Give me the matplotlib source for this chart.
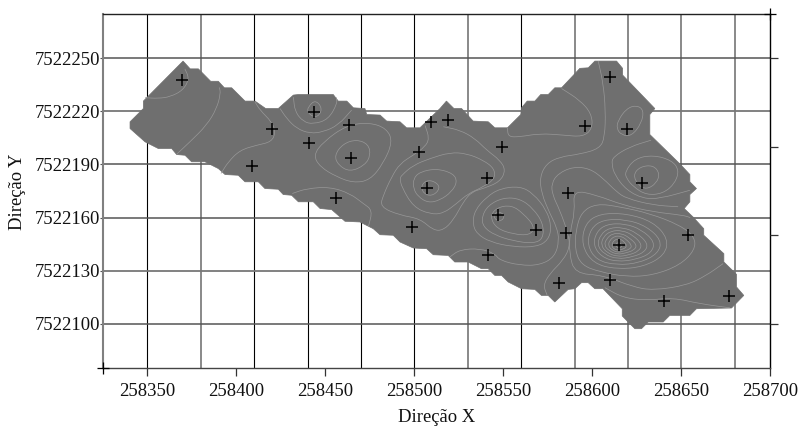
import numpy as np
import matplotlib
matplotlib.use('Agg')
import matplotlib.pyplot as plt
from matplotlib.path import Path
from matplotlib.patches import PathPatch, Polygon

plt.rcParams['font.family'] = ['Liberation Serif', 'DejaVu Serif']

# all coordinates below are metres relative to these origins
x0 = 258000
y0 = 7522000

xlim = [325, 700]
ylim = [75, 275]
xticks = [350, 400, 450, 500, 550, 600, 650, 700]
yticks = [100, 130, 160, 190, 220, 250]
right_ticks = [100, 150, 200, 250]

# grid, the reference has some lines dark/thin and some grey/thick
vgrid_dark = [350, 410, 440, 470, 500, 560]
vgrid_grey = [380, 530, 590, 620, 650, 680]
hgrid_dark = [100, 160, 190, 250]
hgrid_grey = [130, 220]

# sample points
pts_x = [369.2, 419.8, 443.6, 463.4, 440.8, 464.2, 408.9, 509.3, 502.6, 506.9,
         455.9, 519.0, 549.0, 595.8, 609.8, 619.2, 628.0, 586.4, 540.9, 547.1,
         568.2, 585.1, 614.7, 654.0, 541.5, 581.4, 609.8, 640.2, 676.9, 498.8]
pts_y = [237.7, 210.3, 219.8, 212.2, 202.2, 193.4, 189.0, 213.9, 197.1, 176.8,
         171.1, 215.0, 199.8, 211.6, 239.2, 209.8, 179.8, 173.9, 182.4, 161.3,
         152.8, 151.3, 144.3, 150.0, 138.7, 123.0, 124.5, 112.6, 115.5, 154.7]

# outline of the interpolated area
area = [(370, 248.4), (374, 244), (378.6, 244), (385.5, 237), (389.8, 237), (393.2, 233.3),
        (397.3, 233.3), (404.8, 225.8), (410.4, 225.8), (416.4, 221.6), (423.5, 221.6),
        (432, 229.2), (434.8, 229.5), (454.4, 229.5), (457.2, 225.8), (462, 225.8),
        (465.7, 222), (472.2, 221.6), (473.2, 218.2), (480.7, 217.9), (484.4, 214.5),
        (491.9, 214.1), (495.6, 210.7), (503.1, 210.7), (514.4, 221.6), (518, 225.8),
        (522.2, 221.6), (526.5, 221.6), (533, 214.5), (541.5, 214.1), (545.2, 210.7),
        (552.3, 210.7), (559.8, 218.2), (560.2, 222), (563.4, 225.8), (567.7, 225.8),
        (571, 229.5), (575.2, 229.5), (578.9, 233.3), (582.7, 233.3), (593, 244.3),
        (597.7, 244.6), (601.4, 248.4), (613.6, 248.4), (617, 244.3), (617, 240.5),
        (635.1, 221.6), (632.3, 218.2), (632.3, 206.9), (649.5, 190), (654.8, 184.3),
        (654.8, 180.2), (658.5, 176.4), (654.8, 173), (654.8, 168.9), (651.6, 165.1),
        (656.6, 160.3), (662.6, 153.7), (662.6, 150), (673.9, 139.6), (673.9, 134.9),
        (681, 127.9), (681, 120.8), (685.1, 116), (678.2, 108.9), (658.5, 108.5),
        (654.8, 104.7), (643.5, 104.7), (639.8, 101), (631.4, 101), (627.6, 97.2),
        (623.9, 97.2), (620.1, 101), (616.8, 104.4), (616.8, 108.5), (606, 119.8),
        (601.4, 119.8), (597.7, 123.2), (593.9, 123.2), (590.2, 119.8), (586.4, 119.4),
        (578.9, 112.3), (575.2, 116), (571.4, 116), (567.7, 119.4), (560.2, 119.8),
        (552.7, 123.6), (549, 127.3), (545.2, 127.3), (541.5, 131.1), (537.7, 131.1),
        (530.2, 134.9), (522.7, 134.9), (519, 138.6), (510.6, 139), (506.9, 142.4),
        (499.4, 142.8), (491.9, 146.2), (488.1, 150), (480.7, 150.3), (476.9, 153.7),
        (469.4, 157.5), (461, 157.9), (453.5, 164.5), (447, 165.1), (443.2, 168.9),
        (434.8, 168.9), (431, 172.6), (426.3, 173), (423.5, 176), (416, 176.4),
        (412.3, 180.2), (404.8, 180.2), (401, 183.9), (393.6, 184.3), (389.8, 187.7),
        (382.3, 191.5), (374.8, 191.5), (371.1, 195.2), (366.4, 195.6), (363.6, 199),
        (356.1, 199), (348.6, 202.8), (340.2, 210.3), (340.2, 214.1), (347.7, 221.6),
        (347.7, 225.8)]

# isolines, open ones end on the outline
open_lines = [
    [(371, 244), (373.5, 238.6), (370.1, 232), (362.7, 228.2), (356.1, 227.3), (348.6, 227.7)],
    [(390.4, 233.5), (391.1, 230.1), (388.9, 221.6), (383.3, 212.2), (373.9, 202.8), (366.4, 195.8)],
    [(410.4, 225.4), (413.2, 220.7), (419.8, 214.1), (422, 208.4), (419.8, 202.8), (411.4, 200.9),
     (402, 198.1), (395.4, 191.5), (391.3, 184.9)],
    [(424.5, 221.6), (428.2, 216), (433.8, 210.3), (441.3, 207.5), (448.8, 208.4), (457.2, 212.2), (464.7, 220.7)],
    [(432, 228), (432.9, 219.8), (437.6, 214.1), (443.2, 212.8), (451.6, 215.4), (456.7, 224.5), (456, 228)],
    [(431.4, 173.6), (439.5, 176.4), (452.6, 177.3), (463.8, 173.6), (471.3, 167.9), (476.5, 164.1), (474.1, 154.7)],
    [(506, 212), (508.4, 204.7), (506, 200), (499.4, 195.3), (491.9, 190.5), (487.2, 183), (482.5, 172.6),
     (480.7, 166), (491.9, 161.3), (503.1, 159.4), (510.6, 152.8), (516.2, 152.8), (521.9, 158.5),
     (527.5, 168.9), (532.2, 174.5), (538.7, 176.4), (548.1, 180.2), (551.3, 186.8), (548.1, 192.4),
     (540.6, 198.1), (534, 204.7), (525.6, 209.4), (516.3, 211.3)],
    [(633, 203.7), (621, 200), (611.7, 194.3), (610.8, 190.5), (612.6, 183.9), (619.2, 175.5),
     (628.6, 170.7), (637.9, 170.7), (654.8, 175.4)],
    [(603.3, 248.4), (606.1, 235.8), (607.4, 220.7), (607, 205.6), (604.2, 199), (593, 195.8),
     (581.7, 194.3), (574.2, 190.5), (570.5, 183), (571.4, 173.6), (576.1, 162.3), (579.9, 154.7),
     (581.4, 147.2), (578.9, 137.8), (570.5, 133.1), (559.3, 133), (548, 135.8), (545.2, 139.6),
     (536.9, 142.5), (525.6, 141.9), (520, 137.8)],
    [(648.2, 166.1), (634.2, 167), (619.2, 170.8), (613.6, 174.5), (606.1, 182.1), (598.6, 187.7),
     (589.2, 188.7), (580.8, 184.9), (577, 179.3), (577.6, 172.7), (581.7, 164.2), (586.4, 151),
     (587.4, 143.4), (583.6, 135.9), (576.1, 128.4), (572.4, 121.8), (574.6, 116.1)],
    [(655, 160), (651, 161.3), (634.2, 163.2), (617.3, 167), (602.3, 172.7), (589.2, 175.5), (590.2, 163.2),
     (587.4, 151.9), (587, 139.7), (590.2, 128.4), (606.1, 127.4), (622.9, 120.8), (634.2, 118.9),
     (652.9, 121.7), (664.1, 127.3), (673.5, 134)],
    [(607, 120.4), (617.3, 114.7), (630.4, 113.2), (645.4, 114.7), (660.4, 111.3), (677.3, 109)],
    [(552.3, 210.7), (552.7, 205.6), (559.3, 205.6), (570.5, 207.5), (583.6, 206.6), (594.8, 205.6),
     (600.1, 210.3), (599.5, 218.8), (593, 226.3), (582.7, 232.9)],
]

closed_lines = [
    [(440.4, 222.6), (444.1, 226.4), (447.9, 222.6), (447, 217.9), (443.2, 216.6), (439.8, 219.8)],
    [(443.2, 195.2), (448.8, 202.8), (461.9, 212.2), (475, 213.7), (484.4, 210.3), (487.8, 202.8),
     (482.5, 190.5), (475, 181.1), (465.7, 179.6), (456.3, 183), (447, 188.6)],
    [(455, 195.2), (460, 201.8), (467.5, 204.1), (474.1, 201.5), (475.4, 195.2), (472.2, 189.6),
     (463.8, 185.8), (457.2, 189.6)],
    [(491.9, 182), (492.8, 177.3), (499.4, 166), (508.8, 161.9), (516.2, 162.3), (523.7, 167.9),
     (530.3, 173.6), (538.7, 177.3), (545.3, 182), (544.9, 187.7), (538.7, 192.4), (529.4, 196.2),
     (520, 196.8), (508.8, 193.4), (499.4, 189.6), (492.8, 183.9)],
    [(499.4, 182), (503.1, 185.8), (512.5, 187.7), (521.9, 184.9), (524.1, 180.2), (520.9, 174.5),
     (514.4, 169.8), (507.8, 168.3), (502.2, 171.7), (499.4, 176.4)],
    [(503.7, 178.3), (507.8, 181.5), (513.4, 179.2), (514, 175.5), (509.7, 172.1), (505, 173.6)],
    [(532.7, 156.6), (534, 164.2), (540.6, 171.7), (548.1, 176.4), (559.3, 177.7), (566.8, 173.6),
     (574.3, 164.2), (577.1, 154.7), (575.2, 147.2), (568.7, 143.4), (555.6, 143.4), (542.5, 146.2), (535, 150.9)],
    [(537.8, 160.4), (541.5, 167), (550, 171.3), (559.3, 170.7), (566.8, 165.1), (572.4, 156.6),
     (572.4, 148.1), (566.8, 145.3), (555.6, 146.8), (545.3, 150), (538.7, 154.7)],
    [(542.5, 160.4), (546.2, 165.7), (554.6, 167), (561.2, 162.3), (567.8, 154.7), (564.9, 150),
     (555.6, 150.6), (546.2, 153.8)],
    [(544.3, 161.3), (547.2, 163.6), (550.9, 161.3), (549, 157.9), (545.8, 158.5)],
    [(618.3, 185.8), (623.9, 193.4), (634.2, 195.3), (644.5, 192.4), (648.8, 186.8), (646.4, 179.3),
     (639.8, 173.6), (630.4, 172.7), (623, 177.4), (619.2, 182.1)],
    [(622.9, 184), (626.7, 188.7), (634.2, 189.6), (637.9, 184.9), (636, 179.3), (630.4, 175.9), (625.8, 178.3)],
    [(614.5, 215), (619.2, 221.6), (624.8, 223.5), (628.9, 220.7), (627.6, 213.2), (622, 206),
     (616.4, 206.6), (613.6, 210.3)],
    # rings of the depression near 258615 / 7522145
    [(593.9, 163.2), (602.3, 167.9), (615.5, 166.1), (632.3, 162.3), (649.2, 155.7), (657.6, 149.1),
     (657.6, 141.6), (649.2, 133.1), (634.2, 127.4), (619.2, 126.5), (604.2, 129.3), (593.9, 133.1),
     (590.2, 141.6), (590.7, 152.9)],
    [(593.9, 144.4), (595.8, 156.6), (604.2, 162.3), (619.2, 162.3), (634.2, 157.6), (642.6, 148.1),
     (640.7, 138.7), (628.6, 132.1), (613.6, 130.8), (600.5, 134)],
    [(597.1, 144.4), (599, 153.8), (606.1, 158.9), (619.2, 158.9), (630.4, 155.1), (638.9, 147.2),
     (637, 139.7), (626.7, 134.4), (613.6, 133.1), (602.3, 135.9)],
    [(600.5, 144.4), (602.3, 151.9), (608, 156.3), (618.3, 156.6), (627.6, 153.2), (635.1, 146.3),
     (633.2, 140), (624.8, 136.3), (613.6, 135), (605.1, 137.8)],
    [(602.7, 144.4), (604.6, 150.4), (609.5, 154.2), (617.3, 154.4), (624.8, 151.5), (631.4, 145.3),
     (629.5, 140.6), (622.9, 137.8), (614, 136.5), (606.6, 139.3)],
    [(604.8, 144.4), (606.1, 149.1), (610.4, 152.5), (617, 152.7), (622.9, 150), (628, 144.8),
     (626.1, 141), (620.7, 138.9), (614.1, 137.8), (608, 140.2)],
    [(606.6, 144.4), (608, 148.1), (611.3, 151), (616.4, 151), (620.7, 148.7), (625.2, 144.4),
     (623.3, 141.5), (618.8, 140), (614.1, 139.1), (609.3, 141.2)],
    [(608.9, 144.4), (609.8, 147.2), (612.5, 149.5), (616, 149.5), (619.2, 147.6), (622.4, 144),
     (620.7, 141.9), (617.3, 141), (614.3, 140.2), (610.6, 141.9)],
    [(610.8, 144.4), (612.1, 147.2), (615.1, 148.1), (617.7, 146.6), (619.6, 143.8), (617.3, 142.1),
     (614.3, 141.5), (611.7, 142.5)],
    [(612.6, 144.4), (614.7, 146.3), (617.3, 144), (614.7, 142.5)],
]


def shift(line):
    return [(x0 + p[0], y0 + p[1]) for p in line]


def curve_path(line, closed=False):
    # quadratic beziers through the segment midpoints, so the traced lines look round
    p = np.array(shift(line), dtype=float)
    if closed:
        mid = (p + np.roll(p, -1, axis=0)) / 2
        verts = [mid[-1]]
        codes = [Path.MOVETO]
        for i in range(len(p)):
            verts += [p[i], mid[i]]
            codes += [Path.CURVE3, Path.CURVE3]
    else:
        mid = (p[:-1] + p[1:]) / 2
        verts = [p[0], mid[0]]
        codes = [Path.MOVETO, Path.LINETO]
        for i in range(1, len(p) - 1):
            verts += [p[i], mid[i]]
            codes += [Path.CURVE3, Path.CURVE3]
        verts.append(p[-1])
        codes.append(Path.LINETO)
    return Path(verts, codes)


fig = plt.figure(figsize=(7.99, 4.26), dpi=100)
ax = fig.add_axes([103 / 799, 58 / 426, 667.3 / 799, 354 / 426])
ax.set_xlim(x0 + xlim[0], x0 + xlim[1])
ax.set_ylim(y0 + ylim[0], y0 + ylim[1])

for v in vgrid_dark:
    ax.axvline(x0 + v, color='black', lw=0.8, zorder=1)
for v in vgrid_grey:
    ax.axvline(x0 + v, color='#808080', lw=1.3, zorder=1)
for h in hgrid_dark:
    ax.axhline(y0 + h, color='#555555', lw=1.1, zorder=1)
for h in hgrid_grey:
    ax.axhline(y0 + h, color='#777777', lw=1.3, zorder=1)

ax.add_patch(Polygon(shift(area), closed=True, facecolor='#6f6f6f', edgecolor='#6f6f6f',
                     lw=0.5, zorder=2))
for line in open_lines:
    ax.add_patch(PathPatch(curve_path(line), fill=False, edgecolor='#989898', lw=0.5, zorder=3))
for line in closed_lines:
    ax.add_patch(PathPatch(curve_path(line, closed=True), fill=False, edgecolor='#989898', lw=0.5, zorder=3))

ax.plot(x0 + np.array(pts_x), y0 + np.array(pts_y), '+', color='black', ms=8.6, mew=1.1, zorder=4)

ax.set_xticks([x0 + t for t in xticks])
ax.set_yticks([y0 + t for t in yticks])
ax.set_xticklabels([str(x0 + t) for t in xticks])
ax.set_yticklabels([str(y0 + t) for t in yticks])
ax.tick_params(axis='x', length=6, width=0.9, pad=4.5, labelsize=13.4, color='#333333', labelcolor='#111111')
ax.tick_params(axis='y', length=2, width=0.8, pad=0.2, labelsize=13.4, color='#555555', labelcolor='#111111')

ax.spines['left'].set_color('#808080')
ax.spines['left'].set_linewidth(1.5)
ax.spines['top'].set_color('#222222')
ax.spines['top'].set_linewidth(1.0)
ax.spines['bottom'].set_color('#444444')
ax.spines['bottom'].set_linewidth(1.0)
ax.spines['right'].set_color('black')
ax.spines['right'].set_linewidth(1.0)

# right side has its own ticks every 50 m
ax2 = ax.twinx()
ax2.set_ylim(ax.get_ylim())
ax2.set_yticks([y0 + t for t in right_ticks])
ax2.set_yticklabels([])
ax2.tick_params(axis='y', length=6, width=0.9, color='#333333')
for s in ax2.spines.values():
    s.set_visible(False)

# corner crosses
ax2.plot([x0 + xlim[1]], [y0 + ylim[1]], '+', color='black', ms=8.6, mew=0.9, clip_on=False)
ax2.plot([x0 + xlim[0]], [y0 + ylim[0]], '+', color='black', ms=8.6, mew=0.9, clip_on=False)

fig.text(437 / 799, 1 - 418 / 426, 'Direção X', ha='center', va='center', fontsize=13.4, color='#111111')
fig.text(17 / 799, 1 - 192 / 426, 'Direção Y', ha='center', va='center', rotation=90, fontsize=13.4, color='#111111')

plt.savefig('out.png', dpi=100)
